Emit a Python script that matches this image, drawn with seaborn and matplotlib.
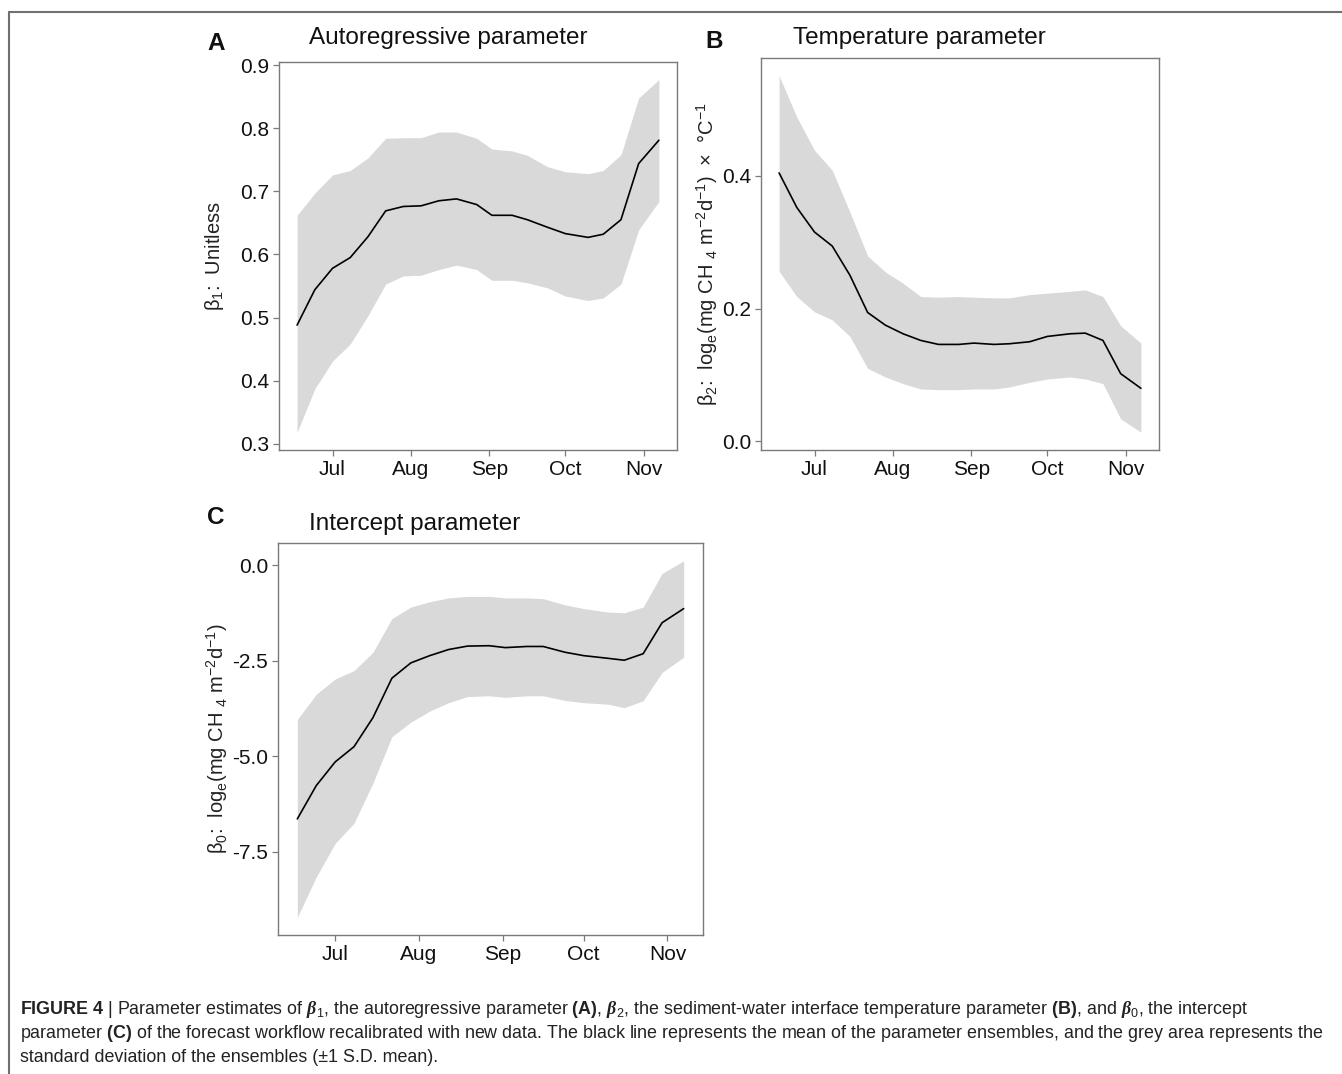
import numpy as np
import pandas as pd
import matplotlib
matplotlib.use("Agg")
import matplotlib.pyplot as plt
import matplotlib.dates as mdates
from matplotlib.lines import Line2D
from matplotlib.ticker import FixedLocator, FormatStrFormatter
import seaborn as sns

# ---------------- data ----------------
dates = ["2019-06-17", "2019-06-24", "2019-07-01", "2019-07-08", "2019-07-15",
         "2019-07-22", "2019-07-29", "2019-08-05", "2019-08-12", "2019-08-19",
         "2019-08-27", "2019-09-02", "2019-09-10", "2019-09-16", "2019-09-24",
         "2019-10-01", "2019-10-10", "2019-10-16", "2019-10-23", "2019-10-30",
         "2019-11-07"]

ar_mean = [0.488, 0.544, 0.578, 0.595, 0.628, 0.669, 0.676, 0.677, 0.685, 0.688,
           0.679, 0.662, 0.662, 0.655, 0.643, 0.633, 0.627, 0.632, 0.655, 0.744, 0.781]
ar_upper = [0.662, 0.697, 0.726, 0.733, 0.753, 0.784, 0.785, 0.785, 0.794, 0.794,
            0.784, 0.767, 0.764, 0.757, 0.739, 0.731, 0.728, 0.733, 0.758, 0.848, 0.877]
ar_lower = [0.318, 0.387, 0.431, 0.458, 0.503, 0.553, 0.566, 0.567, 0.576, 0.583,
            0.576, 0.559, 0.559, 0.555, 0.547, 0.534, 0.527, 0.531, 0.553, 0.639, 0.684]

temp_mean = [0.404, 0.352, 0.315, 0.294, 0.250, 0.194, 0.175, 0.162, 0.152, 0.146,
             0.146, 0.148, 0.146, 0.147, 0.150, 0.158, 0.162, 0.163, 0.152, 0.102, 0.080]
temp_upper = [0.550, 0.488, 0.438, 0.408, 0.345, 0.279, 0.255, 0.238, 0.218, 0.217,
              0.218, 0.217, 0.216, 0.216, 0.221, 0.223, 0.226, 0.228, 0.218, 0.174, 0.148]
temp_lower = [0.256, 0.218, 0.195, 0.183, 0.158, 0.110, 0.097, 0.087, 0.079, 0.078,
              0.078, 0.079, 0.079, 0.082, 0.089, 0.094, 0.097, 0.094, 0.087, 0.034, 0.014]

int_mean = [-6.64, -5.77, -5.15, -4.75, -3.99, -2.96, -2.56, -2.37, -2.21, -2.12,
            -2.11, -2.16, -2.13, -2.13, -2.28, -2.37, -2.44, -2.49, -2.32, -1.51, -1.14]
int_upper = [-4.04, -3.38, -2.98, -2.76, -2.28, -1.40, -1.10, -0.96, -0.86, -0.82,
             -0.82, -0.86, -0.86, -0.88, -1.04, -1.14, -1.23, -1.25, -1.10, -0.22, 0.11]
int_lower = [-9.21, -8.16, -7.28, -6.75, -5.70, -4.49, -4.11, -3.82, -3.60, -3.44,
             -3.42, -3.46, -3.42, -3.42, -3.54, -3.60, -3.64, -3.73, -3.55, -2.81, -2.41]

titles = ["Autoregressive parameter", "Temperature parameter", "Intercept parameter"]
panel_letters = ["A", "B", "C"]
ylabels = ["β$_1$:  Unitless",
           "β$_2$:  log$_\\mathrm{e}$(mg CH $_4$ m$^{-2}$d$^{-1}$)  ×  °C$^{-1}$",
           "β$_0$:  log$_\\mathrm{e}$(mg CH $_4$ m$^{-2}$d$^{-1}$)"]
yticks = [[0.3, 0.4, 0.5, 0.6, 0.7, 0.8, 0.9], [0.0, 0.2, 0.4], [-7.5, -5.0, -2.5, 0.0]]

caption_lines = [
    r"$\mathbf{FIGURE\ 4}$ | Parameter estimates of $\mathbfit{\beta}_1$, the autoregressive parameter "
    r"$\mathbf{(A)}$, $\mathbfit{\beta}_2$, the sediment-water interface temperature parameter "
    r"$\mathbf{(B)}$, and $\mathbfit{\beta}_0$, the intercept",
    r"parameter $\mathbf{(C)}$ of the forecast workflow recalibrated with new data. The black line "
    r"represents the mean of the parameter ensembles, and the grey area represents the",
    "standard deviation of the ensembles (±1 S.D. mean).",
]

# ---------------- style ----------------
sns.set_theme(style="white")
plt.rcParams["font.family"] = ["Liberation Sans", "DejaVu Sans"]
plt.rcParams["mathtext.fontset"] = "custom"
plt.rcParams["mathtext.rm"] = "Liberation Sans"
plt.rcParams["mathtext.it"] = "Liberation Sans:italic"
plt.rcParams["mathtext.bf"] = "Liberation Sans:bold"
plt.rcParams["mathtext.bfit"] = "Liberation Serif:italic:bold"

W, H = 1342, 1074
fig = plt.figure(figsize=(W / 100, H / 100), dpi=100)
fig.patch.set_facecolor("white")


def px_rect(left, top, right, bottom):
    return [left / W, 1 - bottom / H, (right - left) / W, (bottom - top) / H]


panels = [
    dict(rect=px_rect(279, 62, 677, 450), mean=ar_mean, up=ar_upper, lo=ar_lower,
         title_xy=(309, 38), letter_xy=(216, 43), ylab_x=215),
    dict(rect=px_rect(761, 58, 1159, 450), mean=temp_mean, up=temp_upper, lo=temp_lower,
         title_xy=(793, 38), letter_xy=(714, 42), ylab_x=707),
    dict(rect=px_rect(278, 543, 703, 935), mean=int_mean, up=int_upper, lo=int_lower,
         title_xy=(309, 524), letter_xy=(216, 518), ylab_x=217),
]

spine_col = "#7a7a7a"
band_col = "#D9D9D9"

for i, p in enumerate(panels):
    ax = fig.add_axes(p["rect"])
    df = pd.DataFrame({"date": pd.to_datetime(dates), "mean": p["mean"],
                       "upper": p["up"], "lower": p["lo"]})
    ax.fill_between(df["date"], df["lower"], df["upper"], color=band_col, lw=0, zorder=1)
    sns.lineplot(data=df, x="date", y="mean", ax=ax, color="black", lw=1.2, zorder=2)

    t0, t1 = df["date"].min(), df["date"].max()
    pad = (t1 - t0) * 0.05
    ax.set_xlim(t0 - pad, t1 + pad)
    ymin, ymax = min(p["lo"]), max(p["up"])
    ypad = (ymax - ymin) * 0.05
    ax.set_ylim(ymin - ypad, ymax + ypad)

    ax.xaxis.set_major_locator(mdates.MonthLocator())
    ax.xaxis.set_major_formatter(mdates.DateFormatter("%b"))
    ax.yaxis.set_major_locator(FixedLocator(yticks[i]))
    ax.yaxis.set_major_formatter(FormatStrFormatter("%.1f"))

    for s in ax.spines.values():
        s.set_visible(True)
        s.set_color(spine_col)
        s.set_linewidth(1.0)
    ax.tick_params(axis="both", which="major", direction="out", length=4, width=0.9,
                   color=spine_col, labelsize=15, labelcolor="#111111", pad=3,
                   bottom=True, left=True, top=False, right=False)
    ax.grid(False)
    ax.set_xlabel("")

    left_px = p["rect"][0] * W
    width_px = p["rect"][2] * W
    ax.set_ylabel(ylabels[i], fontsize=14.5, color="#222222", va="center")
    ax.yaxis.set_label_coords((p["ylab_x"] - left_px) / width_px, 0.5)

    fig.text(p["title_xy"][0] / W, 1 - p["title_xy"][1] / H, titles[i],
             fontsize=17.5, ha="left", va="center", color="#111111")
    fig.text(p["letter_xy"][0] / W, 1 - p["letter_xy"][1] / H, panel_letters[i],
             fontsize=17.5, fontweight="bold", ha="center", va="center", color="#111111")

# figure frame lines (top and left)
fig.add_artist(Line2D([9 / W, 1.0], [1 - 12 / H, 1 - 12 / H], color="#707070", lw=1.5,
                      transform=fig.transFigure))
fig.add_artist(Line2D([9 / W, 9 / W], [1 - 12 / H, 0.0], color="#707070", lw=1.5,
                      transform=fig.transFigure))

# caption, sized so that lines fit the measured widths
cap_y = [1010, 1034, 1058]
cap_texts = []
for ln, y in zip(caption_lines, cap_y):
    cap_texts.append(fig.text(20 / W, 1 - y / H, ln, fontsize=10, ha="left",
                              va="center", color="#222222"))
fig.canvas.draw()
r = fig.canvas.get_renderer()
w1 = cap_texts[0].get_window_extent(r).width
w2 = cap_texts[1].get_window_extent(r).width
fs = 10 * min(1283.0 / w1, 1300.0 / w2)
for t in cap_texts:
    t.set_fontsize(fs)

fig.savefig("out.png", dpi=100, facecolor="white")
